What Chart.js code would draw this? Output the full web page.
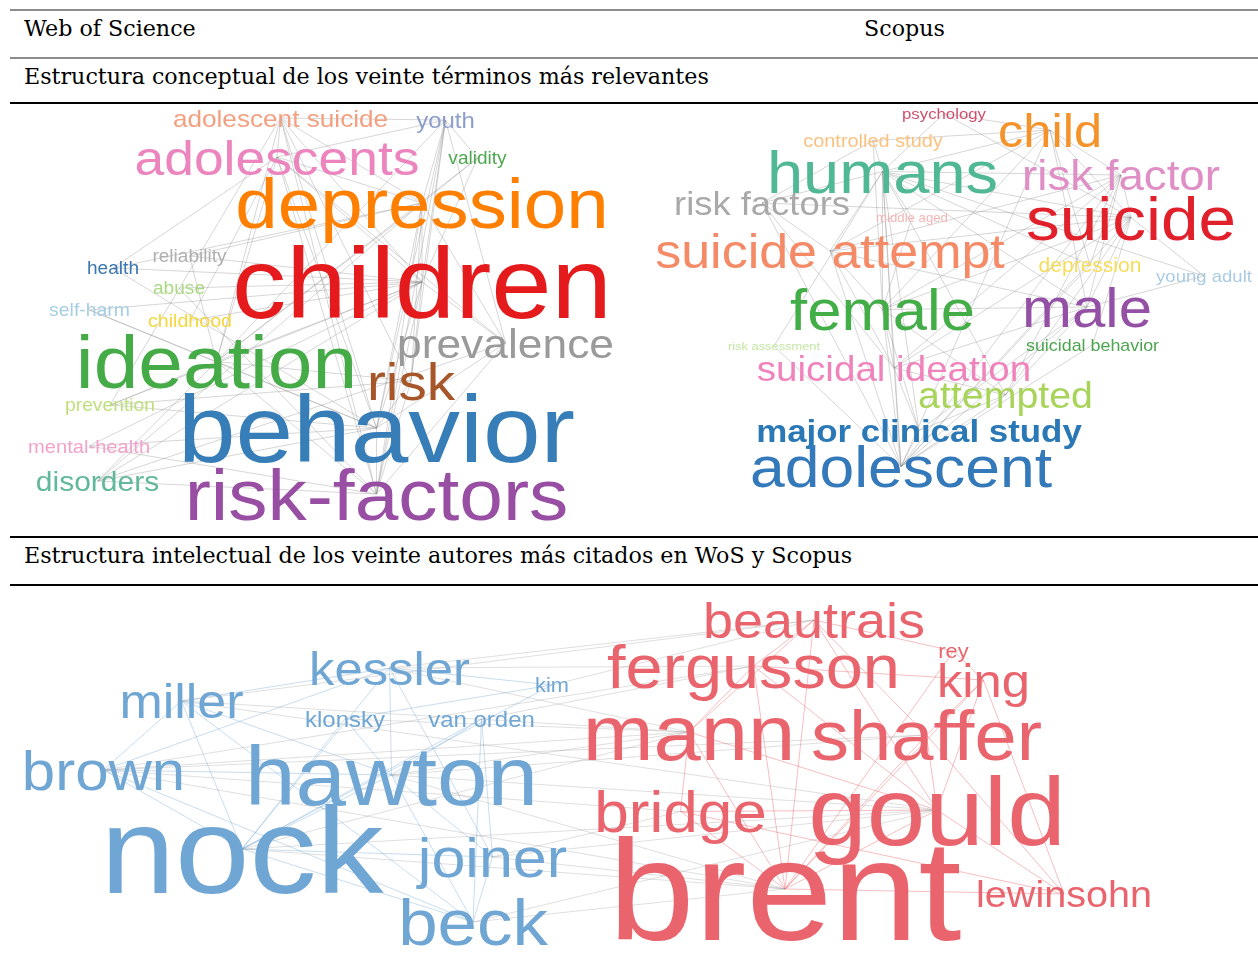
<!DOCTYPE html>
<html>
<head>
<meta charset="utf-8">
<script src="https://cdn.jsdelivr.net/npm/chart.js@4.4.1/dist/chart.umd.min.js"></script>
<style>
  body { margin: 0; background: #fff; width: 1258px; height: 959px; position: relative; overflow: hidden; }
  .rule { position: absolute; left: 10px; width: 1248px; }
  .hdr { position: absolute; font-family: "DejaVu Serif", serif; font-size: 22.2px; line-height: 30px; color: #000; white-space: nowrap; }
  canvas { position: absolute; }
</style>
</head>
<body>

<div class="rule" style="top:9px;height:2px;background:#8c8c8c"></div>
<div class="hdr" style="left:24px;top:13px">Web of Science</div>
<div class="hdr" style="left:864px;top:13px">Scopus</div>
<div class="rule" style="top:57px;height:2px;background:#8c8c8c"></div>
<div class="hdr" style="left:24px;top:61px">Estructura conceptual de los veinte términos más relevantes</div>
<div class="rule" style="top:102px;height:2px;background:#000"></div>

<canvas id="wos" width="602" height="428" style="left:20px;top:105px"></canvas>
<canvas id="scopus" width="608" height="400" style="left:650px;top:105px"></canvas>

<div class="rule" style="top:536px;height:2px;background:#000"></div>
<div class="hdr" style="left:24px;top:540px">Estructura intelectual de los veinte autores más citados en WoS y Scopus</div>
<div class="rule" style="top:584px;height:2px;background:#000"></div>

<canvas id="authors" width="1258" height="371" style="left:0px;top:588px"></canvas>

<script>
// ---- Web of Science: términos ----
var wosTerms = ["adolescent suicide", "youth", "adolescents", "validity", "depression", "reliability",
  "health", "children", "abuse", "self-harm", "childhood", "prevalence", "ideation", "risk",
  "prevention", "behavior", "mental-health", "disorders", "risk-factors"];
var wosX = [260.5, 425.5, 257, 457.5, 402, 169.5, 93, 402, 159, 69.5, 170, 485.5, 196.5, 391, 90, 356.5, 69, 77.5, 356.5];
var wosY = [13, 15, 52, 53, 98, 151, 163, 177, 183, 205, 215.5, 238, 256.5, 276, 300, 323, 341, 376, 389];
var wosFreq = [24, 22, 49, 17.5, 70, 17.5, 17.5, 99.5, 17.5, 17.8, 18, 40.7, 73.7, 52, 17.7, 95, 18.5, 27.5, 72];
var wosColors = ["#f3a080", "#8d9ecb", "#ec84bd", "#4fa850", "#ff7f00", "#b0b0b0", "#3b76b0", "#e41a1c",
  "#acd884", "#a6cee3", "#f5d73b", "#9a9a9a", "#44ab47", "#a65628", "#c0e07e", "#377eb8", "#f1a3ca", "#62b89c", "#984ea3"];
var wosLinks = [
  ["children", "depression"], ["children", "behavior"], ["children", "ideation"], ["children", "risk-factors"],
  ["children", "adolescents"], ["children", "prevalence"], ["children", "risk"], ["children", "youth"],
  ["children", "adolescent suicide"], ["children", "health"], ["children", "reliability"], ["children", "abuse"],
  ["children", "self-harm"], ["children", "childhood"], ["children", "prevention"], ["children", "mental-health"],
  ["children", "disorders"], ["children", "validity"],
  ["depression", "behavior"], ["depression", "ideation"], ["depression", "risk-factors"], ["depression", "adolescents"],
  ["depression", "youth"], ["depression", "adolescent suicide"], ["depression", "prevalence"], ["depression", "risk"],
  ["depression", "disorders"], ["depression", "validity"], ["depression", "reliability"], ["depression", "health"],
  ["behavior", "ideation"], ["behavior", "risk-factors"], ["behavior", "adolescents"], ["behavior", "youth"],
  ["behavior", "adolescent suicide"], ["behavior", "risk"], ["behavior", "prevalence"], ["behavior", "prevention"],
  ["behavior", "mental-health"], ["behavior", "health"], ["behavior", "self-harm"], ["behavior", "disorders"],
  ["ideation", "risk-factors"], ["ideation", "adolescents"], ["ideation", "youth"], ["ideation", "adolescent suicide"],
  ["ideation", "risk"], ["ideation", "prevention"], ["ideation", "disorders"], ["ideation", "reliability"],
  ["ideation", "validity"], ["ideation", "self-harm"],
  ["risk-factors", "adolescents"], ["risk-factors", "youth"], ["risk-factors", "prevalence"], ["risk-factors", "risk"],
  ["risk-factors", "disorders"], ["risk-factors", "mental-health"], ["risk-factors", "abuse"], ["risk-factors", "adolescent suicide"],
  ["adolescents", "youth"], ["adolescents", "adolescent suicide"], ["adolescents", "prevalence"], ["adolescents", "childhood"],
  ["adolescents", "health"], ["youth", "adolescent suicide"], ["youth", "validity"], ["youth", "prevalence"], ["youth", "risk"],
  ["adolescent suicide", "risk"], ["adolescent suicide", "prevention"], ["prevalence", "disorders"], ["risk", "prevention"]
];

// ---- Scopus: términos ----
var scoTerms = ["psychology", "child", "controlled study", "humans", "risk factor", "risk factors", "middle aged",
  "suicide", "suicide attempt", "depression", "young adult", "female", "male", "risk assessment",
  "suicidal behavior", "suicidal ideation", "attempted", "major clinical study", "adolescent"];
var scoX = [294, 400, 223, 232.5, 471, 112, 262, 481, 180, 440, 554, 232.5, 437, 124, 442.5, 244, 355.5, 269, 251];
var scoY = [8.5, 25, 35.5, 66.5, 70, 98, 112.5, 112.5, 146, 160, 171, 204.5, 202, 241, 240, 263, 290, 325.5, 361.5];
var scoFreq = [15.4, 46.4, 18.3, 59.6, 41.9, 33.4, 12.1, 61.9, 47.7, 19.3, 17, 56.5, 55, 11.8, 16.4, 35.4, 36.1, 32, 57.3];
var scoColors = ["#d0506e", "#f5922a", "#fbc27f", "#50b895", "#df8fc6", "#a9a9a9", "#f5b5b5", "#e0202a",
  "#f48a66", "#f6dc57", "#aacbe3", "#43ad48", "#9450a5", "#c5e6a4", "#4da64f", "#f083bc", "#a8d45a", "#2a78b5", "#3479b9"];
var scoBold = ["major clinical study"];
var scoLinks = [
  ["humans", "suicide"], ["humans", "adolescent"], ["humans", "female"], ["humans", "male"], ["humans", "suicide attempt"],
  ["humans", "child"], ["humans", "risk factor"], ["humans", "suicidal ideation"], ["humans", "attempted"],
  ["humans", "major clinical study"], ["humans", "risk factors"], ["humans", "psychology"], ["humans", "controlled study"],
  ["humans", "middle aged"], ["humans", "depression"], ["humans", "young adult"], ["humans", "risk assessment"],
  ["suicide", "adolescent"], ["suicide", "female"], ["suicide", "male"], ["suicide", "suicide attempt"], ["suicide", "child"],
  ["suicide", "risk factor"], ["suicide", "suicidal ideation"], ["suicide", "attempted"], ["suicide", "psychology"],
  ["suicide", "young adult"], ["suicide", "suicidal behavior"], ["suicide", "risk factors"],
  ["adolescent", "female"], ["adolescent", "male"], ["adolescent", "suicide attempt"], ["adolescent", "child"],
  ["adolescent", "risk factor"], ["adolescent", "suicidal ideation"], ["adolescent", "attempted"], ["adolescent", "major clinical study"],
  ["adolescent", "risk factors"], ["adolescent", "depression"], ["adolescent", "suicidal behavior"], ["adolescent", "risk assessment"],
  ["female", "male"], ["female", "suicide attempt"], ["female", "child"], ["female", "risk factor"], ["female", "suicidal ideation"],
  ["female", "attempted"], ["female", "major clinical study"], ["female", "middle aged"], ["female", "controlled study"],
  ["male", "suicide attempt"], ["male", "child"], ["male", "risk factor"], ["male", "suicidal ideation"], ["male", "attempted"],
  ["male", "major clinical study"], ["male", "young adult"],
  ["suicide attempt", "child"], ["suicide attempt", "risk factor"], ["suicide attempt", "suicidal ideation"], ["suicide attempt", "risk factors"],
  ["child", "risk factor"], ["child", "psychology"], ["child", "controlled study"], ["child", "depression"],
  ["risk factor", "suicidal ideation"], ["risk factor", "attempted"], ["risk factor", "depression"],
  ["suicidal ideation", "attempted"], ["suicidal ideation", "major clinical study"], ["attempted", "major clinical study"],
  ["risk factors", "controlled study"], ["risk factors", "suicidal ideation"]
];

// ---- Autores más citados ----
var autTerms = ["kessler", "kim", "miller", "klonsky", "van orden", "brown", "hawton", "nock", "joiner", "beck",
  "beautrais", "fergusson", "rey", "king", "mann", "shaffer", "bridge", "gould", "brent", "lewinsohn"];
var autX = [389.5, 552, 181.5, 345, 481.5, 103.5, 391.5, 242, 492.5, 473, 814, 753.5, 953.5, 983.5, 689, 926.5, 680.5, 937, 785, 1064];
var autY = [80, 97, 113, 131, 131, 182, 187, 261, 269, 334, 32, 78, 63, 92, 144, 147, 223.5, 222, 301, 306];
var autFreq = [46.6, 20, 47.7, 22, 22, 55, 83.4, 123, 56, 65, 49.5, 61.2, 20, 46.5, 78, 69.7, 57, 96.6, 142, 36.3];
var autCluster = [1, 1, 1, 1, 1, 1, 1, 1, 1, 1, 2, 2, 2, 2, 2, 2, 2, 2, 2, 2];
var autLinks = [
  ["nock", "hawton"], ["nock", "kessler"], ["nock", "joiner"], ["nock", "beck"], ["nock", "brown"], ["nock", "miller"],
  ["nock", "klonsky"], ["nock", "van orden"], ["nock", "kim"], ["hawton", "kessler"], ["hawton", "joiner"], ["hawton", "beck"],
  ["hawton", "brown"], ["hawton", "miller"], ["hawton", "klonsky"], ["hawton", "van orden"], ["kessler", "joiner"],
  ["kessler", "miller"], ["kessler", "brown"], ["kessler", "kim"], ["joiner", "van orden"], ["joiner", "beck"],
  ["beck", "brown"], ["beck", "miller"], ["brown", "miller"], ["klonsky", "kim"], ["van orden", "beck"],
  ["brent", "gould"], ["brent", "shaffer"], ["brent", "mann"], ["brent", "bridge"], ["brent", "fergusson"], ["brent", "beautrais"],
  ["brent", "king"], ["brent", "rey"], ["brent", "lewinsohn"], ["gould", "shaffer"], ["gould", "mann"], ["gould", "bridge"],
  ["gould", "fergusson"], ["gould", "beautrais"], ["gould", "king"], ["gould", "lewinsohn"], ["shaffer", "beautrais"],
  ["shaffer", "king"], ["shaffer", "lewinsohn"], ["mann", "fergusson"], ["mann", "beautrais"], ["fergusson", "beautrais"],
  ["fergusson", "king"], ["bridge", "lewinsohn"], ["king", "lewinsohn"], ["rey", "beautrais"], ["rey", "king"], ["mann", "bridge"],
  ["nock", "brent"], ["nock", "gould"], ["hawton", "brent"], ["hawton", "mann"], ["hawton", "gould"], ["kessler", "fergusson"],
  ["kessler", "beautrais"], ["joiner", "brent"], ["joiner", "gould"], ["beck", "brent"], ["brown", "brent"], ["miller", "mann"],
  ["hawton", "shaffer"], ["nock", "mann"], ["van orden", "fergusson"], ["klonsky", "mann"], ["kim", "beautrais"],
  ["joiner", "bridge"], ["beck", "gould"], ["brown", "mann"], ["brown", "fergusson"], ["miller", "beautrais"],
  ["brown", "shaffer"], ["miller", "gould"], ["kessler", "mann"], ["brown", "bridge"]
];
var autPalette = { 1: "#6fa6d4", 2: "#e9646c" };

var STRETCH = 1.09; // las nubes originales estan algo estiradas en horizontal

// Plugin que dibuja las aristas y las palabras en la posicion de cada punto
var cloudPlugin = {
  id: "cloud",
  beforeDatasetsDraw: function(chart) {
    var ds = chart.data.datasets[0];
    var sx = chart.scales.x, sy = chart.scales.y, ctx = chart.ctx;
    ctx.save();
    ctx.lineWidth = 1;
    ds.links.forEach(function(l) {
      var a = ds.terms.indexOf(l[0]), b = ds.terms.indexOf(l[1]);
      if (a < 0 || b < 0) return;
      ctx.strokeStyle = ds.linkColor(a, b);
      ctx.beginPath();
      ctx.moveTo(sx.getPixelForValue(ds.data[a].x), sy.getPixelForValue(ds.data[a].y));
      ctx.lineTo(sx.getPixelForValue(ds.data[b].x), sy.getPixelForValue(ds.data[b].y));
      ctx.stroke();
    });
    ctx.restore();
  },
  afterDatasetsDraw: function(chart) {
    var ds = chart.data.datasets[0];
    var meta = chart.getDatasetMeta(0);
    var ctx = chart.ctx;
    meta.data.forEach(function(pt, i) {
      var size = ds.freq[i];
      var bold = ds.bold.indexOf(ds.terms[i]) >= 0;
      ctx.save();
      ctx.font = (bold ? "bold " : "") + size + 'px "Liberation Sans", Arial, sans-serif';
      ctx.fillStyle = ds.colors[i];
      ctx.textAlign = "center";
      ctx.textBaseline = "alphabetic";
      ctx.translate(pt.x, pt.y + 0.36 * size);
      ctx.scale(STRETCH, 1);
      ctx.fillText(ds.terms[i], 0, 0);
      ctx.restore();
    });
  }
};

function makeCloud(id, terms, xs, ys, freq, colors, bold, links, linkColor) {
  var canvas = document.getElementById(id);
  var points = xs.map(function(x, i) { return { x: x, y: ys[i] }; });
  return new Chart(canvas, {
    type: "scatter",
    data: {
      datasets: [{
        data: points, pointRadius: 0, pointHoverRadius: 0,
        terms: terms, freq: freq, colors: colors, bold: bold, links: links, linkColor: linkColor
      }]
    },
    options: {
      responsive: false,
      animation: false,
      layout: { padding: 0 },
      plugins: { legend: { display: false }, tooltip: { enabled: false } },
      scales: {
        x: { type: "linear", display: false, min: 0, max: canvas.width },
        y: { type: "linear", display: false, min: 0, max: canvas.height, reverse: true }
      }
    },
    plugins: [cloudPlugin]
  });
}

makeCloud("wos", wosTerms, wosX, wosY, wosFreq, wosColors, [], wosLinks,
  function() { return "rgba(140,140,140,0.36)"; });

makeCloud("scopus", scoTerms, scoX, scoY, scoFreq, scoColors, scoBold, scoLinks,
  function() { return "rgba(140,140,140,0.36)"; });

var autColors = autCluster.map(function(c) { return autPalette[c]; });
makeCloud("authors", autTerms, autX, autY, autFreq, autColors, [], autLinks,
  function(a, b) {
    if (autCluster[a] !== autCluster[b]) return "rgba(150,150,150,0.3)";
    return autCluster[a] === 1 ? "rgba(111,166,212,0.38)" : "rgba(233,100,108,0.42)";
  });
</script>
</body>
</html>
